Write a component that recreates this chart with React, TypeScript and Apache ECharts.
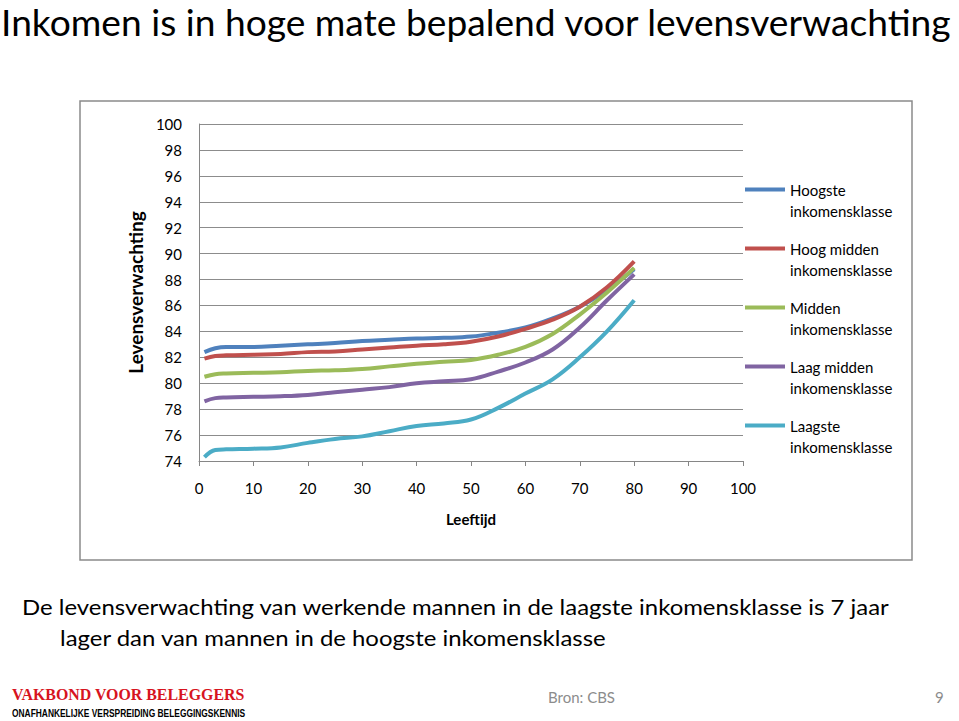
import React, { useEffect, useRef } from "react";
import * as echarts from "echarts";

const ages = [1, 3, 5, 10, 15, 20, 25, 30, 35, 40, 45, 50, 55, 60, 65, 70, 75, 80];
const hoogste = [82.4, 82.7, 82.8, 82.8, 82.9, 83.0, 83.1, 83.25, 83.35, 83.45, 83.5, 83.6, 83.9, 84.3, 85.0, 85.9, 87.2, 88.8];
const hoogMidden = [81.9, 82.1, 82.15, 82.2, 82.25, 82.4, 82.45, 82.6, 82.75, 82.9, 83.0, 83.2, 83.6, 84.2, 84.9, 85.9, 87.4, 89.4];
const midden = [80.5, 80.7, 80.75, 80.8, 80.85, 80.95, 81.0, 81.1, 81.3, 81.5, 81.65, 81.8, 82.2, 82.8, 83.8, 85.3, 87.0, 88.9];
const laagMidden = [78.6, 78.85, 78.9, 78.95, 79.0, 79.1, 79.3, 79.5, 79.7, 80.0, 80.15, 80.3, 80.9, 81.6, 82.6, 84.3, 86.4, 88.4];
const laagste = [74.3, 74.85, 74.9, 74.95, 75.05, 75.4, 75.7, 75.9, 76.3, 76.7, 76.9, 77.2, 78.1, 79.2, 80.3, 82.0, 84.0, 86.4];

const seriesNames = [
  "Hoogste inkomensklasse",
  "Hoog midden inkomensklasse",
  "Midden inkomensklasse",
  "Laag midden inkomensklasse",
  "Laagste inkomensklasse",
];
const seriesValues = [hoogste, hoogMidden, midden, laagMidden, laagste];
const seriesColors = ["#4F81BD", "#C0504D", "#9BBB59", "#8064A2", "#4BACC6"];

const title = "Inkomen is in hoge mate bepalend voor levensverwachting";
const subtitle1 = "De levensverwachting van werkende mannen in de laagste inkomensklasse is 7 jaar";
const subtitle2 = "lager dan van mannen in de hoogste inkomensklasse";

const FONT = "Lato, 'Open Sans', sans-serif";

export default function App() {
  const ref = useRef<HTMLDivElement>(null);
  useEffect(() => {
    document.body.style.margin = "0";
    const chart = echarts.init(ref.current!, null, { renderer: "svg" });
    const option: any = {
      animation: false,
      backgroundColor: "#ffffff",
      textStyle: { fontFamily: FONT },
      grid: { left: 199, right: 216, top: 124, bottom: 260 },
      xAxis: {
        type: "value",
        min: 0,
        max: 100,
        interval: 10,
        name: "Leeftijd",
        nameLocation: "middle",
        nameGap: 50,
        nameTextStyle: { fontFamily: FONT, fontSize: 15, fontWeight: "bold", color: "#000" },
        axisLine: { show: true, lineStyle: { color: "#868686", width: 1 } },
        axisTick: { show: true, inside: false, length: 5, lineStyle: { color: "#868686" } },
        splitLine: { show: false },
        axisLabel: { fontFamily: FONT, fontSize: 15, color: "#000", margin: 19 },
      },
      yAxis: {
        type: "value",
        min: 74,
        max: 100,
        interval: 2,
        name: "Levensverwachting",
        nameLocation: "middle",
        nameGap: 53,
        nameTextStyle: { fontFamily: FONT, fontSize: 19, fontWeight: "bold", color: "#000" },
        axisLine: { show: true, lineStyle: { color: "#868686", width: 1 } },
        axisTick: { show: false },
        splitLine: { show: true, lineStyle: { color: "#8c8c8c", width: 1 } },
        axisLabel: { fontFamily: FONT, fontSize: 15, color: "#000", margin: 17 },
      },
      legend: {
        orient: "vertical",
        left: 740,
        top: 174,
        itemWidth: 40,
        itemHeight: 25,
        itemGap: 17,
        symbolKeepAspect: false,
        icon: "path://M0 0H40V4H0Z M0 25L0.01 25L0 25Z",
        itemStyle: { borderWidth: 0 },
        textStyle: { fontFamily: FONT, fontSize: 15, lineHeight: 21, color: "#000" },
        formatter: (name: string) => name.replace(" inkomensklasse", "\ninkomensklasse"),
        data: seriesNames,
      },
      series: seriesNames.map((name, i) => ({
        name,
        type: "line",
        smooth: 0.4,
        symbol: "none",
        color: seriesColors[i],
        lineStyle: { width: 4, color: seriesColors[i] },
        data: ages.map((a, j) => [a, seriesValues[i][j]]),
      })),
      graphic: [
        {
          type: "rect",
          shape: { x: 80, y: 101, width: 832, height: 459 },
          style: { fill: "none", stroke: "#8a8a8a", lineWidth: 1.5 },
          z: -1,
        },
        {
          type: "text",
          x: 1,
          y: 22,
          scaleX: 1.033,
          style: { text: title, fontFamily: FONT, fontSize: 36, fill: "#000", textVerticalAlign: "middle" },
        },
        {
          type: "text",
          x: 22,
          y: 606,
          scaleX: 1.088,
          style: { text: subtitle1, fontFamily: FONT, fontSize: 22, fill: "#000", textVerticalAlign: "middle" },
        },
        {
          type: "text",
          x: 60,
          y: 637,
          scaleX: 1.088,
          style: { text: subtitle2, fontFamily: FONT, fontSize: 22, fill: "#000", textVerticalAlign: "middle" },
        },
        {
          type: "text",
          x: 12,
          y: 694,
          scaleX: 0.936,
          style: {
            text: "VAKBOND VOOR BELEGGERS",
            fontFamily: "'Liberation Serif', serif",
            fontWeight: "bold",
            fontSize: 17,
            fill: "#d7141e",
            textVerticalAlign: "middle",
          },
        },
        {
          type: "text",
          x: 12,
          y: 713,
          scaleX: 0.8,
          style: {
            text: "ONAFHANKELIJKE VERSPREIDING BELEGGINGSKENNIS",
            fontFamily: "'Liberation Sans', sans-serif",
            fontWeight: "bold",
            fontSize: 10.5,
            fill: "#000",
            textVerticalAlign: "middle",
          },
        },
        {
          type: "text",
          x: 548,
          y: 697,
          style: { text: "Bron: CBS", fontFamily: FONT, fontSize: 15, fill: "#8c8c8c", textVerticalAlign: "middle" },
        },
        {
          type: "text",
          x: 935,
          y: 697,
          style: { text: "9", fontFamily: FONT, fontSize: 15, fill: "#8c8c8c", textVerticalAlign: "middle" },
        },
      ],
    };
    chart.setOption(option);
    return () => chart.dispose();
  }, []);
  return <div ref={ref} style={{ width: 959, height: 721 }} />;
}
